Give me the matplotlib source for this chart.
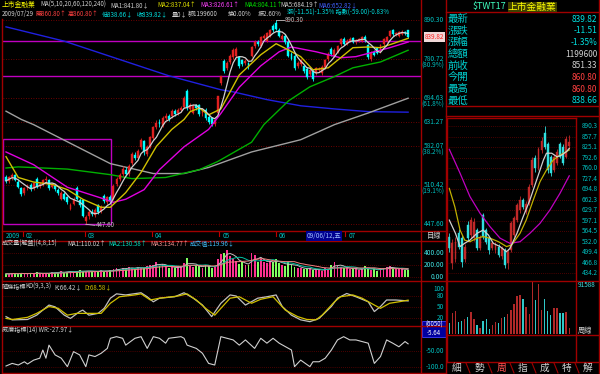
import numpy as np
import pandas as pd
import matplotlib
matplotlib.use("Agg")
import matplotlib.pyplot as plt
from matplotlib.lines import Line2D
from matplotlib.patches import Rectangle
from matplotlib.transforms import blended_transform_factory

plt.rcParams["font.family"] = ["Noto Sans CJK TC", "DejaVu Sans"]

W, H = 600, 374

# ---------------- daily data (2009/01 .. 2009/07/29) ----------------
opens = [524, 517, 524, 528, 516, 505, 497, 505, 511, 506, 522, 509, 512, 519, 520, 508, 510, 503, 488, 496,
         490, 472, 480, 506, 486, 486, 452, 460, 467, 462, 478, 468, 492, 483, 490, 488, 512, 521, 530, 538,
         530, 550, 565, 560, 580, 592, 568, 582, 598, 620, 632, 626, 640, 645, 645, 655, 650, 657, 665, 700,
         660, 652, 668, 668, 650, 658, 642, 640, 628, 650, 720, 775, 758, 772, 785, 790, 785, 778, 770, 770,
         790, 815, 828, 815, 838, 830, 845, 872, 880, 860, 836, 845, 828, 795, 790, 762, 768, 762, 756, 742,
         750, 745, 752, 745, 760, 780, 808, 790, 800, 820, 836, 822, 830, 838, 826, 830, 830, 842, 818, 780,
         800, 810, 800, 820, 830, 845, 860, 848, 845, 850, 855, 860.80]
closes = [518, 524, 529, 520, 508, 496, 505, 510, 504, 514, 508, 513, 519, 522, 506, 512, 504, 497, 498, 488,
          482, 478, 486, 488, 478, 461, 458, 466, 464, 470, 466, 474, 484, 490, 484, 510, 522, 528, 540, 530,
          545, 568, 560, 572, 595, 570, 580, 600, 620, 630, 628, 640, 645, 638, 655, 648, 658, 662, 685, 662,
          668, 666, 662, 648, 658, 640, 632, 628, 635, 690, 738, 750, 770, 790, 805, 808, 762, 768, 775, 760,
          812, 828, 822, 840, 845, 852, 860, 860, 864, 845, 845, 826, 790, 782, 758, 770, 778, 750, 735, 752,
          730, 757, 755, 760, 778, 795, 795, 806, 815, 835, 822, 830, 836, 828, 832, 835, 840, 832, 786, 798,
          792, 798, 818, 835, 840, 858, 848, 852, 855, 856, 851.33, 839.82]
highs = [528, 527, 532, 530, 519, 507, 508, 513, 514, 516, 524, 516, 522, 526, 522, 515, 513, 506, 500, 499,
         492, 481, 490, 509, 489, 488, 462, 470, 471, 473, 480, 477, 495, 493, 494, 512, 525, 532, 544, 542,
         548, 571, 570, 576, 598, 595, 584, 603, 624, 635, 638, 644, 650, 649, 659, 660, 662, 667, 690, 705,
         673, 670, 672, 671, 662, 661, 646, 643, 639, 690, 738, 780, 775, 795, 810, 812, 790, 782, 780, 774,
         816, 832, 833, 844, 850, 856, 865, 878, 890.30, 866, 850, 850, 832, 800, 794, 775, 782, 766, 760, 756,
         754, 760, 760, 764, 782, 799, 812, 810, 819, 839, 840, 834, 840, 842, 836, 839, 844, 846, 822, 802,
         805, 813, 822, 839, 844, 862, 864, 856, 859, 860, 859, 860.80]
lows = [515, 514, 520, 517, 505, 492, 494, 502, 500, 503, 505, 506, 510, 516, 503, 505, 501, 494, 485, 485,
        479, 469, 477, 485, 475, 458, 447.60, 456, 460, 459, 463, 465, 481, 480, 481, 486, 509, 518, 527, 526,
        527, 547, 556, 557, 577, 566, 564, 579, 595, 616, 622, 622, 636, 633, 641, 644, 646, 653, 662, 658,
        655, 648, 657, 644, 645, 636, 628, 624, 624, 648, 715, 745, 752, 768, 780, 786, 758, 763, 765, 755,
        786, 810, 817, 812, 833, 826, 840, 855, 860, 840, 831, 821, 786, 777, 753, 757, 763, 745, 730, 737,
        725, 740, 747, 741, 756, 776, 790, 786, 796, 816, 818, 818, 826, 824, 822, 826, 826, 828, 781, 776,
        788, 793, 796, 816, 826, 841, 844, 843, 841, 846, 847, 838.66]
volumes = [60, 55, 70, 65, 50, 75, 60, 55, 70, 65, 80, 60, 55, 70,
           75, 90, 70, 85, 100, 80, 95, 110, 90, 85, 120, 105, 100, 95, 110, 90, 100, 120, 95, 105, 115, 130,
           150, 130, 160, 140, 170, 155, 145, 175, 160, 150, 180,
           200, 210, 250, 190, 220, 180,
           160, 170, 150, 180, 175, 230,
           317,
           190, 170, 200, 180, 160, 210, 190, 150, 170,
           300, 380, 400, 456, 350, 300,
           270, 220, 250, 210, 200,
           400, 372, 260, 300,
           260, 240, 270, 250, 300,
           230, 200, 180, 260, 210, 170, 150, 160, 140, 130, 150, 120,
           120, 130, 110, 150, 140, 200, 260, 180, 170, 150, 160, 140, 130, 150, 120, 140, 180, 130, 120, 140,
           110, 150, 160, 170, 180, 140, 130, 150, 140, 120, 120]

# moving-average lines (day index, value)
ma10_idx = [0, 4, 9, 15, 20, 25, 31, 34, 39, 44, 49, 54, 58, 60, 63, 66, 70, 76, 83, 88, 92, 96, 100, 105, 109, 113, 118, 122, 126, 131]
ma10_val = [562, 524, 516, 512, 503, 487, 474, 474, 498, 533, 582, 616, 637, 654, 662, 647, 660, 740, 792, 822, 805, 787, 753, 758, 784, 811, 813, 811, 822, 837.04]
ma20_idx = [0, 9, 20, 31, 35, 39, 45, 50, 58, 66, 70, 76, 83, 89, 93, 101, 109, 114, 120, 125, 131]
ma20_val = [571, 547, 507, 489, 482, 487, 503, 538, 581, 616, 650, 710, 763, 800, 813, 800, 784, 787, 800, 811, 826.61]
ma60_idx = [0, 4, 20, 34, 41, 52, 63, 69, 80, 84, 92, 99, 107, 113, 122, 131]
ma60_val = [541, 543, 539, 529, 522, 524, 538, 553, 590, 626, 678, 711, 736, 758, 773, 804.11]
ma120_idx = [0, 5, 9, 34, 48, 58, 66, 80, 96, 107, 118, 131]
ma120_val = [655, 637, 626, 549, 531, 531, 542, 571, 595, 626, 651, 684.19]
ma240_idx = [0, 19, 53, 70, 74, 85, 96, 107, 118, 131]
ma240_val = [870, 829, 738, 704, 699, 681, 667, 660, 654, 652.82]

price_levels = [890.30, 780.72, 684.63, 631.27, 582.07, 510.42, 447.60]
level_pct = ["", "(80.9%)", "(61.8%)", "", "(38.2%)", "(19.1%)", ""]
drawn_lines = [829.6, 738.0]
box_days = (-1.0, 34.2)
box_prices = (447.6, 596.5)

month_days = [-1, 5.5, 25.7, 47.5, 69.5, 88, 110.5]
month_labels = ["2009", "02", "03", "04", "05", "06", "07"]

# KD and WR
k_idx = [0, 2, 7, 10, 12, 14, 16, 19, 21, 24, 25, 27, 30, 32, 34, 36, 39, 44, 46, 48, 50, 55, 58, 61, 64, 67, 70, 73, 75, 78, 82, 85, 88, 90, 93, 96, 99, 102, 106, 108, 111, 114, 118, 120, 122, 124, 127, 131]
k_val = [23, 14, 15, 27, 41, 55, 50, 27, 18, 37, 41, 27, 32, 46, 74, 86, 83, 89, 78, 64, 74, 78, 89, 74, 55, 23, 60, 83, 80, 55, 74, 78, 83, 51, 27, 14, 9, 18, 51, 74, 87, 78, 64, 37, 51, 69, 69, 66.42]
d_idx = [0, 2, 7, 10, 14, 17, 20, 23, 26, 31, 34, 37, 42, 44, 47, 50, 56, 59, 62, 65, 68, 70, 73, 76, 80, 83, 87, 91, 95, 98, 101, 103, 107, 109, 113, 116, 120, 122, 125, 128, 131]
d_val = [18, 15, 21, 32, 51, 46, 27, 32, 32, 32, 60, 78, 83, 86, 69, 74, 80, 86, 69, 46, 27, 46, 74, 78, 60, 71, 78, 41, 23, 15, 14, 27, 64, 78, 83, 74, 55, 46, 60, 64, 68.58]
wr_idx = [0, 2, 4, 6, 7, 9, 11, 12, 13, 14, 16, 18, 20, 22, 24, 26, 27, 29, 31, 33, 34, 36, 38, 39, 42, 44, 46, 48, 50, 52, 53, 57, 58, 59, 62, 64, 66, 68, 70, 72, 74, 76, 78, 81, 83, 85, 87, 89, 93, 94, 96, 99, 100, 102, 104, 106, 108, 110, 112, 114, 116, 118, 120, 122, 124, 126, 128, 130, 131]
wr_val = [-96, -88, -93, -83, -90, -78, -72, -47, -72, -32, -62, -72, -98, -52, -62, -98, -62, -67, -57, -42, -11, -6, -11, -32, -11, -6, -42, -6, -11, -26, -11, -6, -11, -32, -42, -57, -88, -93, -6, -11, -16, -32, -16, -42, -11, -26, -11, -26, -47, -98, -78, -98, -83, -83, -72, -47, -16, -6, -16, -16, -21, -26, -88, -67, -16, -26, -37, -21, -27.97]

# ---------------- weekly data ----------------
w_open = [548, 465, 480, 558, 542, 480, 584, 553, 543, 568, 512, 614, 568, 543, 512, 505, 517, 488, 506, 465,
          506, 553, 599, 630, 661, 625, 651, 707, 790, 760, 815, 868, 836, 795, 754, 775, 836, 826, 795, 828]
w_close = [512, 527, 532, 517, 470, 516, 545, 599, 594, 512, 543, 548, 532, 506, 527, 522, 491, 512, 460, 501,
           589, 604, 645, 661, 640, 650, 702, 785, 760, 820, 845, 826, 754, 744, 795, 811, 795, 775, 851, 839.82]
w_high = [560, 540, 548, 570, 552, 525, 596, 610, 606, 575, 552, 620, 575, 550, 535, 530, 524, 520, 512, 510,
          596, 612, 652, 672, 668, 658, 710, 795, 800, 826, 856, 890.3, 842, 800, 802, 820, 842, 835, 860, 862]
w_low = [500, 448, 470, 510, 455, 470, 535, 545, 535, 505, 505, 540, 525, 495, 505, 498, 485, 480, 452, 448,
         500, 548, 592, 622, 632, 618, 645, 700, 748, 755, 808, 820, 745, 735, 748, 768, 790, 768, 790, 820]
w_volume = [18900, 37200, 39500, 21750, 22900, 26300, 29200, 38350, 26300, 16000, 10300, 22900, 25750, 9150,
            16000, 21200, 19450, 28050, 29750, 35500, 42350, 52100, 66970, 68700, 60670, 47500, 34900, 91588,
            58950, 86430, 41800, 60100, 40070, 33200, 44650, 44650, 36060, 37200, 38350, 11450]
w_ma5_idx = [0, 2, 3.5, 5, 6.7, 9, 11, 12.7, 14.3, 16.5, 18.6, 19.7, 22, 24, 26.2, 28.4, 30.6, 31.6, 33.3, 35, 36.5, 38.1, 39]
w_ma5_val = [599, 558, 517, 527, 537, 558, 568, 553, 527, 517, 501, 511, 558, 609, 661, 723, 785, 806, 806, 795, 800, 811, 821]
w_ma10_idx = [0, 1.8, 3.5, 5, 6.7, 9, 11, 13.2, 16, 18.6, 20.3, 23, 25, 27.3, 29.5, 31.6, 33.8, 36, 39]
w_ma10_val = [697, 640, 568, 537, 532, 543, 548, 543, 532, 517, 522, 558, 599, 661, 718, 754, 785, 800, 816]
w_ma20_idx = [0, 3.5, 6.7, 10, 13.2, 16.5, 19.7, 23, 26.2, 29.5, 32.7, 36, 39]
w_ma20_val = [818, 744, 672, 620, 579, 543, 527, 532, 558, 589, 630, 682, 736]
w_levels = [890.3, 857.7, 825.1, 792.6, 760.0, 727.4, 694.8, 662.3, 629.7, 597.1, 564.5, 532.0, 499.4, 466.8, 434.2]

quote_names = ["最新", "漲跌", "漲幅", "總額", "前收", "今開", "最高", "最低"]
quote_values = ["839.82", "-11.51", "-1.35%", "1199600", "851.33", "860.80", "860.80", "838.66"]
quote_colors = ["#00e0e0", "#00e0e0", "#00e0e0", "#d0d0d0", "#d0d0d0", "#ff4040", "#ff4040", "#00e0e0"]
tab_names = ["細", "勢", "周", "指", "成", "特", "解"]

UP, DOWN = "#e02020", "#00ffff"
GRID = "#900000"
FRAME = "#a00000"
HS = 4.4  # header / title text size

fig = plt.figure(figsize=(6.0, 3.74), dpi=100, facecolor="black")


def px_axes(x0, y0, x1, y1):
    ax = fig.add_axes([x0 / W, 1 - y1 / H, (x1 - x0) / W, (y1 - y0) / H])
    ax.set_facecolor("black")
    for s in ax.spines.values():
        s.set_visible(False)
    ax.set_xticks([])
    ax.set_yticks([])
    ax.minorticks_off()
    return ax


def ftext(x, y, s, color, size=HS, ha="left", **kw):
    fig.text(x / W, 1 - y / H, s, color=color, fontsize=size, ha=ha, va="center", **kw)


def fline(x0, y0, x1, y1, color=FRAME, lw=1.0):
    fig.add_artist(Line2D([x0 / W, x1 / W], [1 - y0 / H, 1 - y1 / H], color=color, lw=lw))


def candles(ax, x, o, h, l, c, width, up=UP, down=DOWN):
    o, h, l, c = map(np.asarray, (o, h, l, c))
    col = np.where(c >= o, up, down)
    ax.vlines(x, l, h, colors=col, lw=0.6, zorder=3)
    ax.bar(x, np.abs(c - o), bottom=np.minimum(o, c), width=width, color=col,
           edgecolor=col, lw=0.3, zorder=4)


def right_labels(ax, values, texts, color="#00c0c0", xr=444, size=4.8):
    tr = blended_transform_factory(fig.transFigure, ax.transData)
    for v, t in zip(values, texts):
        ax.text(xr / W, v, t, transform=tr, color=color, fontsize=size, ha="right",
                va="center", clip_on=False)


days = np.arange(len(closes))
xlim_d = (-0.98, 135.2)

# ---------------- main price panel ----------------
ax = px_axes(3, 17, 421, 230)
ax.set_yscale("log")
ax.set_ylim(439.1, 899.3)
ax.set_xlim(*xlim_d)
ax.minorticks_off()
ax.set_yticks([])
for lv in price_levels:
    ax.axhline(lv, color=GRID, lw=0.6, ls=(0, (1, 2)), zorder=1)
for lv in drawn_lines:
    ax.axhline(lv, color="#c000c0", lw=1.0, zorder=2)
ax.add_patch(Rectangle((box_days[0], box_prices[0]), box_days[1] - box_days[0],
                       box_prices[1] - box_prices[0], fill=False, ec="#c000c0", lw=1.0, zorder=2))
ax.plot(ma240_idx, ma240_val, color="#2020e0", lw=1.0, zorder=2)
ax.plot(ma120_idx, ma120_val, color="#a0a0a0", lw=1.0, zorder=2)
ax.plot(ma60_idx, ma60_val, color="#00b000", lw=1.0, zorder=2)
ax.plot(ma20_idx, ma20_val, color="#e000e0", lw=1.0, zorder=5)
ax.plot(ma10_idx, ma10_val, color="#d0c000", lw=1.0, zorder=5)
ma5 = pd.Series(closes).rolling(5, min_periods=1).mean()
ax.plot(days, ma5, color="#d0d0d0", lw=0.9, zorder=5)
candles(ax, days, opens, highs, lows, closes, 0.62)

i_hi = int(np.argmax(highs))
i_lo = int(np.argmin(lows))
ax.plot([i_hi, i_hi + 2.5], [highs[i_hi], highs[i_hi]], color="#c0c0c0", lw=0.6, zorder=6)
ax.text(i_hi + 2.7, highs[i_hi], "890.30", color="#c0c0c0", fontsize=4.5, va="center", zorder=6)
ax.plot([i_lo, i_lo + 3], [lows[i_lo], 446], color="#c0c0c0", lw=0.6, zorder=6)
ax.text(i_lo + 3.2, 446, "447.60", color="#c0c0c0", fontsize=4.5, va="center", zorder=6)

right_labels(ax, price_levels, ["%.2f" % v for v in price_levels])
tr = blended_transform_factory(fig.transFigure, ax.transData)
for lv, pct in zip(price_levels, level_pct):
    if pct:
        ax.text(444 / W, lv * 0.978, pct, transform=tr, color="#00c0c0", fontsize=4.6,
                ha="right", va="center", clip_on=False)
ax.text(444 / W, closes[-1], "%.2f" % closes[-1], transform=tr, color="#ff2020", fontsize=4.6,
        ha="right", va="center", clip_on=False,
        bbox=dict(boxstyle="square,pad=0.15", fc="#f0d8d8", ec="none"))

# date row
for d, lab in zip(month_days, month_labels):
    xp = 3 + (d - xlim_d[0]) / (xlim_d[1] - xlim_d[0]) * 418
    if d > 0:
        fline(xp, 232, xp, 236, color="#c00000", lw=0.8)
    ftext(xp + 3, 236, lab, "#00c0c0", size=4.6)
ftext(307, 236, "09/06/12,五", "#a0c0ff", size=4.6,
      bbox=dict(boxstyle="square,pad=0.1", fc="#000090", ec="none"))
ftext(434, 236, "目線", "#d0d0d0", size=5.2, ha="center")

# ---------------- volume panel ----------------
axv = px_axes(3, 241, 421, 281)
axv.set_xlim(*xlim_d)
axv.set_ylim(-62, 605)
vcol = np.where(np.asarray(closes) >= np.asarray(opens), "#ff3090", "#80ff60")
axv.bar(days, volumes, width=0.6, color=vcol, lw=0, zorder=3)
vs = pd.Series(volumes)
axv.plot(days, vs.rolling(4, min_periods=1).mean(), color="#c0c0c0", lw=0.7, zorder=4)
axv.plot(days, vs.rolling(8, min_periods=1).mean(), color="#00c0a0", lw=0.7, zorder=4)
axv.plot(days, vs.rolling(15, min_periods=1).mean(), color="#f08080", lw=0.7, zorder=4)
for lv in [0, 200, 400]:
    axv.axhline(lv, color=GRID, lw=0.5, ls=(0, (1, 2)), zorder=1)
right_labels(axv, [400, 200, 0], ["400.00", "200.00", "0.00"], color="#40e0e0")
ftext(2, 244, "成交量(解盤)(4,8,15)", "#d0d0d0")
ftext(67, 244, "MA1:110.02↑", "#d0d0d0")
ftext(108, 244, "MA2:130.58↑", "#00e0c0")
ftext(150, 244, "MA3:134.77↑", "#f09090")
ftext(190, 244, "成交值:119.96↓", "#40c0ff")

# ---------------- KD panel ----------------
axk = px_axes(3, 281, 421, 326)
axk.set_xlim(*xlim_d)
axk.set_ylim(-3, 121.6)
for lv in [20, 50, 80]:
    axk.axhline(lv, color=GRID, lw=0.5, ls=(0, (1, 2)), zorder=1)
axk.plot(k_idx, k_val, color="#c0c0c0", lw=0.9, zorder=3)
axk.plot(d_idx, d_val, color="#d0c000", lw=0.9, zorder=3)
right_labels(axk, [100, 80, 50, 20], ["100", "80", "50", "20"], size=4.6)
ftext(2, 287, "隨機指標", "#d0d0d0")
ftext(25, 287, "KD(9,3,3)", "#d0d0d0")
ftext(54, 287, "K:66.42↓", "#d0d0d0")
ftext(84, 287, "D:68.58↓", "#d0c000")

# ---------------- WR panel ----------------
axw = px_axes(3, 326, 421, 372)
axw.set_xlim(*xlim_d)
axw.set_ylim(-114.4, 26.7)
for lv in [-50, -100]:
    axw.axhline(lv, color=GRID, lw=0.5, ls=(0, (1, 2)), zorder=1)
axw.plot(wr_idx, wr_val, color="#d0d0d0", lw=0.8, zorder=3)
right_labels(axw, [-50, -100], ["-50.00", "-100.0"], size=4.6)
ftext(2, 331, "威廉指標(14) WR:-27.97↓", "#d0d0d0")

fig.add_artist(Rectangle((422 / W, 1 - 337 / H), 24 / W, 16 / H, transform=fig.transFigure,
                         fc="#0000a0", ec="#4040ff", lw=0.6))
ftext(434, 325, "(6050)", "#ffffff", size=4.4, ha="center")
ftext(434, 333, "-5.64", "#ffffff", size=4.4, ha="center")

# ---------------- header text ----------------
ftext(2, 5, "上市金融業", "#ffff00", size=4.9)
ftext(40, 5, "MA(5,10,20,60,120,240)", "#d0d0d0")
ftext(110, 5, "MA1:841.80↓", "#d0d0d0")
ftext(157, 5, "MA2:837.04↑", "#e0e000")
ftext(200, 5, "MA3:826.61↑", "#ff40ff")
ftext(244, 5, "MA4:804.11↑", "#00e000")
ftext(280, 5, "MA5:684.19↑", "#d0d0d0")
ftext(318, 5, "MA6:652.82↓", "#4060ff")
ftext(2, 14, "2009/07/29", "#d0d0d0")
ftext(35, 14, "開860.80↑", "#ff4040")
ftext(68, 14, "高860.80↑", "#ff4040")
ftext(102, 14, "低838.66↓", "#00e0e0")
ftext(137, 14, "收839.82↓", "#00e0e0")
ftext(172, 14, "量0↓", "#d0d0d0")
ftext(188, 14, "額1199600", "#d0d0d0")
ftext(228, 14, "換0.00%", "#d0d0d0")
ftext(258, 14, "振2.60%", "#d0d0d0")
ftext(287, 13, "漲(-11.51)-1.35% 指數(-59.00)-0.83%", "#00e0e0")

# ---------------- right quote table ----------------
ftext(473, 7, "$TWT17", "#40ffc0", size=6.5)
ftext(508, 7, "上市金融業", "#ffff00", size=7,
      bbox=dict(boxstyle="square,pad=0.05", fc="#404000", ec="none"))
for k, (nm, val, colr) in enumerate(zip(quote_names, quote_values, quote_colors)):
    yy = 19 + k * 11.7
    ftext(448, yy, nm, "#00d0d0", size=7.5)
    ftext(597, yy, val, colr, size=6, ha="right")

# ---------------- weekly chart ----------------
weeks = np.arange(len(w_close))
xlim_w = (-0.75, 41.2)
axp = px_axes(447, 118, 576, 281)
axp.set_xlim(*xlim_w)
axp.set_ylim(410.4, 915)
for lv in w_levels:
    axp.axhline(lv, color=GRID, lw=0.5, ls=(0, (1, 2)), zorder=1)
candles(axp, weeks, w_open, w_high, w_low, w_close, 0.6, up="#c02828", down="#30e0e0")
axp.plot(w_ma20_idx, w_ma20_val, color="#c000c0", lw=0.9, zorder=5)
axp.plot(w_ma10_idx, w_ma10_val, color="#c0b000", lw=0.9, zorder=5)
axp.plot(w_ma5_idx, w_ma5_val, color="#d0d0d0", lw=0.9, zorder=5)
right_labels(axp, w_levels, ["%.1f" % v for v in w_levels], xr=598, size=4.6)

axwv = px_axes(447, 281, 576, 335)
axwv.set_xlim(*xlim_w)
axwv.set_ylim(-1200, 92000)
wcol = np.where(np.asarray(w_close) >= np.asarray(w_open), "#b02828", "#30c8c8")
axwv.bar(weeks, w_volume, width=0.45, color=wcol, lw=0)
ftext(578, 285, "91588", "#40e0e0", size=4.6)
ftext(578, 331, "周線", "#d0d0d0", size=5.2)

# tabs
tab_x = [457, 479, 502, 523, 545, 567, 588]
for tx, nm in zip(tab_x, tab_names):
    ftext(tx, 367.5, nm, "#ff5050" if nm == "周" else "#d0d0d0", size=7, ha="center")
for sx in [468, 490, 512, 534, 556, 577]:
    fline(sx - 2, 363, sx + 2, 373, color="#a00000", lw=0.8)

# ---------------- frame lines ----------------
fline(2, 19, 2, 373)
fline(421, 0, 421, 373)
fline(446, 0, 446, 374)
fline(599, 0, 599, 374)
for yy in [231, 241, 281, 326, 372.5]:
    fline(2, yy, 446, yy)
fline(446, 12, 600, 12)
fline(446, 106, 600, 106)
fline(446, 116, 600, 116)
fline(447, 118, 576, 118)
fline(447, 281, 600, 281)
fline(447, 335, 600, 335)
fline(447, 362, 600, 362)
fline(447, 118, 447, 362)
fline(576, 118, 576, 362)

fig.savefig("out.png", dpi=100, facecolor="black")
